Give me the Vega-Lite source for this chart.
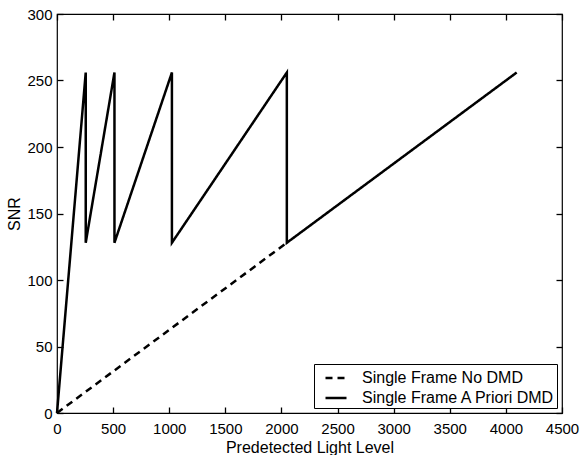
{
  "$schema": "https://vega.github.io/schema/vega-lite/v6.json",
  "autosize": "none",
  "width": 505,
  "height": 399,
  "padding": {"left": 57, "top": 14, "right": 18, "bottom": 42},
  "background": "white",
  "config": {
    "font": "Liberation Sans",
    "view": {"stroke": "black", "strokeWidth": 1.2},
    "axis": {
      "labelColor": "black",
      "labelFont": "Liberation Sans",
      "labelFontSize": 15,
      "titleFont": "Liberation Sans",
      "titleFontSize": 16,
      "titleFontWeight": "normal",
      "titleColor": "black"
    }
  },
  "data": {
    "values": [
      {"series": "Single Frame No DMD", "i": 0, "x": 0, "y": 0},
      {"series": "Single Frame No DMD", "i": 1, "x": 2048, "y": 128},
      {"series": "Single Frame A Priori DMD", "i": 0, "x": 0, "y": 0},
      {"series": "Single Frame A Priori DMD", "i": 1, "x": 256, "y": 256},
      {"series": "Single Frame A Priori DMD", "i": 2, "x": 256, "y": 128},
      {"series": "Single Frame A Priori DMD", "i": 3, "x": 512, "y": 256},
      {"series": "Single Frame A Priori DMD", "i": 4, "x": 512, "y": 128},
      {"series": "Single Frame A Priori DMD", "i": 5, "x": 1024, "y": 256},
      {"series": "Single Frame A Priori DMD", "i": 6, "x": 1024, "y": 128},
      {"series": "Single Frame A Priori DMD", "i": 7, "x": 2048, "y": 256},
      {"series": "Single Frame A Priori DMD", "i": 8, "x": 2048, "y": 128},
      {"series": "Single Frame A Priori DMD", "i": 9, "x": 4096, "y": 256}
    ]
  },
  "layer": [
    {
      "mark": {"type": "line", "color": "black", "strokeWidth": 2.5},
      "encoding": {
        "x": {
          "field": "x", "type": "quantitative",
          "scale": {"domain": [0, 4500], "nice": false},
          "axis": {"orient": "bottom", "offset": -6, "domain": false, "grid": false, "ticks": true, "tickSize": 6, "tickWidth": 1.3, "tickColor": "black", "format": "d", "values": [0,500,1000,1500,2000,2500,3000,3500,4000,4500], "title": "Predetected Light Level", "labelPadding": 8, "titlePadding": 3, "labelFlush": false, "labelOverlap": false}
        },
        "y": {
          "field": "y", "type": "quantitative",
          "scale": {"domain": [0, 300], "nice": false},
          "axis": {"orient": "left", "offset": -6, "domain": false, "grid": false, "ticks": true, "tickSize": 6, "tickWidth": 1.3, "tickColor": "black", "format": "d", "values": [0,50,100,150,200,250,300], "title": "SNR", "labelPadding": 5, "titlePadding": 4, "labelFlush": false, "labelOverlap": false}
        },
        "strokeDash": {
          "field": "series", "type": "nominal",
          "scale": {"domain": ["Single Frame No DMD", "Single Frame A Priori DMD"], "range": [[7, 5], [1, 0]]},
          "legend": {
            "title": null,
            "orient": "bottom-right",
            "offset": 5,
            "strokeColor": "black",
            "fillColor": "white",
            "padding": 2,
            "symbolType": "stroke",
            "symbolSize": 441,
            "symbolOffset": 8,
            "symbolStrokeWidth": 2.5,
            "symbolStrokeColor": "black",
            "labelFontSize": 16,
            "labelColor": "black",
            "labelFont": "Liberation Sans",
            "labelLimit": 0,
            "labelOffset": 14,
            "rowPadding": -1
          }
        },
        "order": {"field": "i", "type": "quantitative"}
      }
    },
    {
      "mark": {"type": "line", "opacity": 0},
      "encoding": {
        "x": {"field": "x", "type": "quantitative", "scale": {"domain": [0, 4500], "nice": false},
          "axis": {"orient": "top", "offset": -6, "domain": false, "grid": false, "ticks": true, "tickSize": 6, "tickWidth": 1.3, "tickColor": "black", "values": [0,500,1000,1500,2000,2500,3000,3500,4000,4500], "labels": false, "title": null}},
        "y": {"field": "y", "type": "quantitative", "scale": {"domain": [0, 300], "nice": false},
          "axis": {"orient": "right", "offset": -6, "domain": false, "grid": false, "ticks": true, "tickSize": 6, "tickWidth": 1.3, "tickColor": "black", "values": [0,50,100,150,200,250,300], "labels": false, "title": null}},
        "detail": {"field": "series"},
        "order": {"field": "i", "type": "quantitative"}
      }
    }
  ],
  "resolve": {"axis": {"x": "independent", "y": "independent"}}
}
